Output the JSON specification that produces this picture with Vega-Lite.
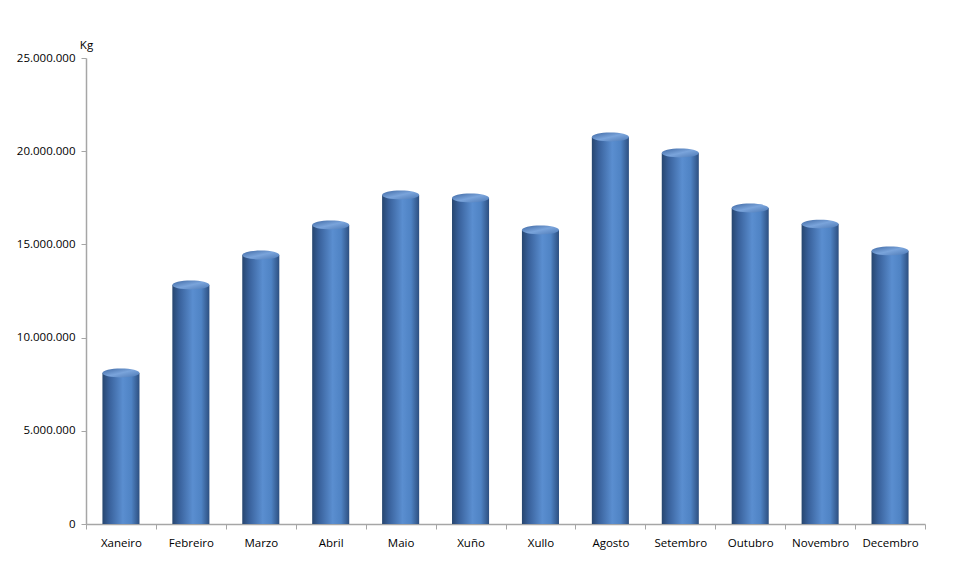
{
  "$schema": "https://vega.github.io/schema/vega-lite/v6.json",
  "width": 839,
  "height": 466,
  "autosize": {"type": "none"},
  "padding": {"left": 86, "top": 58, "right": 42, "bottom": 51},
  "background": "white",
  "config": {
    "locale": {"number": {"decimal": ",", "thousands": ".", "grouping": [3], "currency": ["", " €"]}},
    "view": {"stroke": null},
    "font": "Open Sans"
  },
  "data": {
    "values": [
      {"mes": "Xaneiro", "kg": 8100000},
      {"mes": "Febreiro", "kg": 12820000},
      {"mes": "Marzo", "kg": 14430000},
      {"mes": "Abril", "kg": 16040000},
      {"mes": "Maio", "kg": 17650000},
      {"mes": "Xuño", "kg": 17490000},
      {"mes": "Xullo", "kg": 15770000},
      {"mes": "Agosto", "kg": 20760000},
      {"mes": "Setembro", "kg": 19900000},
      {"mes": "Outubro", "kg": 16950000},
      {"mes": "Novembro", "kg": 16090000},
      {"mes": "Decembro", "kg": 14650000}
    ]
  },
  "encoding": {
    "x": {
      "field": "mes",
      "type": "nominal",
      "sort": null,
      "scale": {"paddingInner": 0, "paddingOuter": 0},
      "axis": {
        "title": null,
        "labelAngle": 0,
        "labelFontSize": 11.5,
        "labelColor": "#000000",
        "labelPadding": 8,
        "tickBand": "extent",
        "tickSize": 5,
        "tickColor": "#a6a6a6",
        "domainColor": "#a6a6a6",
        "domainWidth": 1.5
      }
    },
    "y": {
      "field": "kg",
      "type": "quantitative",
      "scale": {"domain": [0, 25000000], "nice": false},
      "axis": {
        "title": "Kg",
        "titleAngle": 0,
        "titleX": 0,
        "titleY": -8,
        "titleAlign": "center",
        "titleFontSize": 11.5,
        "titleFontWeight": "normal",
        "titleColor": "#000000",
        "format": ",d",
        "values": [0, 5000000, 10000000, 15000000, 20000000, 25000000],
        "labelFontSize": 11.5,
        "labelColor": "#000000",
        "labelPadding": 6,
        "tickSize": 5,
        "tickColor": "#a6a6a6",
        "domainColor": "#a6a6a6",
        "domainWidth": 1.5,
        "grid": false
      }
    }
  },
  "layer": [
    {
      "mark": {
        "type": "bar",
        "width": {"band": 0.53},
        "fill": {
          "gradient": "linear",
          "x1": 0, "y1": 0, "x2": 1, "y2": 0,
          "stops": [
            {"offset": 0, "color": "#27466f"},
            {"offset": 0.18, "color": "#38609a"},
            {"offset": 0.55, "color": "#5a8ed0"},
            {"offset": 0.78, "color": "#4f83c4"},
            {"offset": 1, "color": "#2d4f80"}
          ]
        }
      }
    },
    {
      "mark": {
        "type": "point",
        "shape": "M-1,0 A1,0.24 0 1,0 1,0 A1,0.24 0 1,0 -1,0 Z",
        "size": 1369,
        "filled": true,
        "opacity": 1,
        "fill": {
          "gradient": "linear",
          "x1": 0, "y1": 0, "x2": 1, "y2": 1,
          "stops": [
            {"offset": 0, "color": "#3f68a3"},
            {"offset": 0.5, "color": "#7aa4db"},
            {"offset": 1, "color": "#4b78b5"}
          ]
        }
      }
    }
  ]
}
